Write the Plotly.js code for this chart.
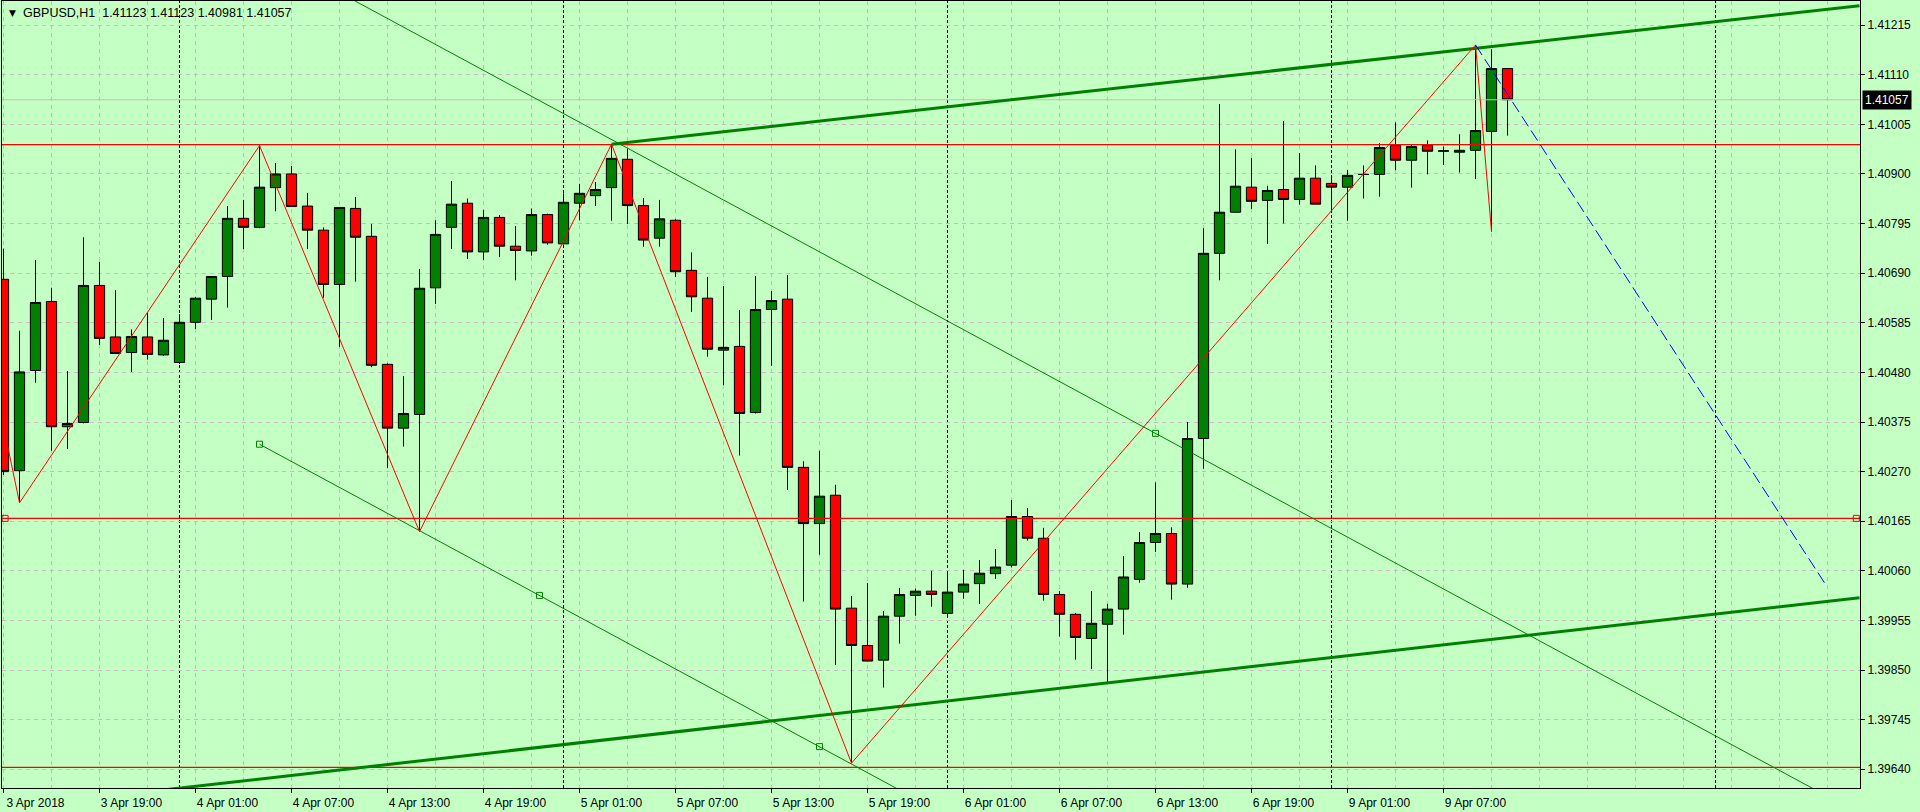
<!DOCTYPE html>
<html>
<head>
<meta charset="utf-8">
<script src="https://cdn.plot.ly/plotly-3.0.1.min.js"></script>
<style>
html,body{margin:0;padding:0;background:#c4ffc4;}
#chart{width:1920px;height:812px;}
</style>
</head>
<body>
<div id="chart"></div>
<script>
// ---- Data: GBPUSD H1, bar index 0 = 3 Apr 2018 13:00 ----
const barIndex = Array.from({length: 95}, (_, i) => i);
const openP = [1.40677,1.40272,1.40484,1.40630,1.40365,1.40374,1.40664,1.40555,1.40522,1.40555,
1.40517,1.40501,1.40586,1.40635,1.40683,1.40806,1.40787,1.40871,1.40900,1.40832,
1.40781,1.40666,1.40827,1.40768,1.40497,1.40362,1.40391,1.40659,1.40787,1.40838,
1.40735,1.40808,1.40747,1.40737,1.40814,1.40752,1.40838,1.40854,1.40871,1.40931,
1.40833,1.40764,1.40802,1.40696,1.40637,1.40527,1.40535,1.40395,1.40613,1.40635,
1.40279,1.40160,1.40220,1.39981,1.39902,1.39871,1.39964,1.40008,1.40017,1.39970,
1.40015,1.40033,1.40054,1.40072,1.40175,1.40129,1.40010,1.39968,1.39917,1.39947,
1.39979,1.40042,1.40120,1.40139,1.40032,1.40340,1.40732,1.40819,1.40872,1.40844,
1.40867,1.40846,1.40891,1.40880,1.40872,1.40899,1.40899,1.40960,1.40929,1.40960,
1.40948,1.40946,1.40950,1.40990,1.41123];
const highP = [1.40742,1.40568,1.40718,1.40659,1.40483,1.40766,1.40714,1.40654,1.40571,1.40606,
1.40595,1.40603,1.40640,1.40684,1.40832,1.40845,1.40960,1.40923,1.40917,1.40860,
1.40787,1.40830,1.40851,1.40794,1.40499,1.40472,1.40699,1.40802,1.40885,1.40848,
1.40824,1.40813,1.40790,1.40827,1.40816,1.40859,1.40879,1.40883,1.40963,1.40954,
1.40849,1.40845,1.40804,1.40734,1.40682,1.40663,1.40612,1.40684,1.40652,1.40686,
1.40292,1.40314,1.40242,1.40007,1.40034,1.39975,1.40024,1.40022,1.40060,1.40057,
1.40062,1.40083,1.40106,1.40210,1.40193,1.40151,1.40017,1.39971,1.40017,1.39990,
1.40091,1.40142,1.40247,1.40152,1.40375,1.40785,1.41048,1.40952,1.40934,1.40875,
1.41012,1.40944,1.40918,1.40896,1.40908,1.40918,1.40965,1.41009,1.40963,1.40971,
1.40958,1.40984,1.41173,1.41164,1.41123];
const lowP = [1.40263,1.40204,1.40458,1.40314,1.40318,1.40372,1.40538,1.40519,1.40481,1.40507,
1.40515,1.40498,1.40572,1.40591,1.40617,1.40741,1.40785,1.40821,1.40830,1.40741,
1.40638,1.40534,1.40672,1.40491,1.40278,1.40323,1.40143,1.40625,1.40741,1.40720,
1.40718,1.40724,1.40675,1.40727,1.40750,1.40751,1.40802,1.40832,1.40801,1.40794,
1.40746,1.40746,1.40682,1.40608,1.40513,1.40453,1.40304,1.40393,1.40494,1.40231,
1.39995,1.40094,1.39861,1.39653,1.39868,1.39813,1.39906,1.39965,1.39984,1.39964,
1.40001,1.39990,1.40043,1.40067,1.40124,1.39997,1.39921,1.39872,1.39852,1.39822,
1.39925,1.40035,1.40100,1.39999,1.40024,1.40276,1.40675,1.40818,1.40826,1.40752,
1.40795,1.40835,1.40835,1.40817,1.40801,1.40848,1.40852,1.40908,1.40871,1.40899,
1.40919,1.40903,1.40889,1.40778,1.40981];
const closeP = [1.40270,1.40481,1.40628,1.40365,1.40372,1.40664,1.40552,1.40520,1.40556,1.40518,
1.40548,1.40586,1.40637,1.40683,1.40806,1.40787,1.40872,1.40900,1.40831,1.40781,
1.40666,1.40829,1.40766,1.40495,1.40362,1.40393,1.40658,1.40772,1.40836,1.40735,
1.40808,1.40747,1.40738,1.40814,1.40754,1.40840,1.40859,1.40867,1.40933,1.40833,
1.40760,1.40805,1.40693,1.40640,1.40529,1.40533,1.40393,1.40613,1.40632,1.40279,
1.40160,1.40218,1.39979,1.39902,1.39869,1.39964,1.40010,1.40017,1.40010,1.40015,
1.40032,1.40055,1.40068,1.40175,1.40129,1.40010,1.39968,1.39919,1.39949,1.39979,
1.40047,1.40120,1.40139,1.40032,1.40340,1.40732,1.40819,1.40874,1.40842,1.40865,
1.40846,1.40891,1.40836,1.40872,1.40897,1.40899,1.40956,1.40929,1.40958,1.40948,
1.40949,1.40950,1.40992,1.41123,1.41057];

// axis ticks
const xTickVals = [0,6,12,18,24,30,36,42,48,54,60,66,72,78,84,90];
const xTickText = ['3 Apr 2018','3 Apr 19:00','4 Apr 01:00','4 Apr 07:00','4 Apr 13:00','4 Apr 19:00',
  '5 Apr 01:00','5 Apr 07:00','5 Apr 13:00','5 Apr 19:00','6 Apr 01:00','6 Apr 07:00',
  '6 Apr 13:00','6 Apr 19:00','9 Apr 01:00','9 Apr 07:00'];
const daySeparators = [11, 35, 59, 83, 107];

// drawn objects (bar index, price)
const zigzagX = [-1, 1, 16, 26, 38, 53, 92, 93];
const zigzagY = [1.40529, 1.40204, 1.40960, 1.40143, 1.40963, 1.39653, 1.41173, 1.40778];
const redLevels = [1.40962, 1.40171, 1.39644];
const redLevelHandlesX = [0.1, 115.8];
const upperThickX = [38, 116];
const upperThickY = [1.40963, 1.41256];
const lowerThickX = [0, 116];
const lowerThickY = [1.39558, 1.40003];
const thinLowerX = [16, 60];
const thinLowerY = [1.40328, 1.39523];
const thinUpperX = [0, 116];
const thinUpperY = [1.41668, 1.39546];
const thinHandlesX = [16, 33.5, 51, 72];
const thinHandlesY = [1.40328, 1.40008, 1.39688, 1.40351];
const forecastX = [92, 113.9];
const forecastY = [1.41173, 1.40030];
const bidPrice = 1.41057;
const headerText = 'GBPUSD,H1  1.41123 1.41123 1.40981 1.41057';

const BG = '#c4ffc4';
const GRID = '#c8b8c8';
const FONT = 'Liberation Sans, Arial, sans-serif';
const X0 = -0.094, X1 = 116.03;

const traces = [];
traces.push({type:'scatter', mode:'lines', x:[X0, X1], y:[bidPrice, bidPrice],
  line:{color:'#c0c0c0', width:1}, hoverinfo:'skip'});
traces.push({
  type:'candlestick', x: barIndex, open: openP, high: highP, low: lowP, close: closeP,
  increasing:{line:{color:'#000000', width:1}, fillcolor:'#008000'},
  decreasing:{line:{color:'#000000', width:1}, fillcolor:'#ff0000'},
  whiskerwidth:0, hoverinfo:'skip'
});
redLevels.forEach(v => traces.push({type:'scatter', mode:'lines', x:[X0, X1], y:[v, v],
  line:{color:'#ff0000', width:1.2}, hoverinfo:'skip'}));
traces.push({type:'scatter', mode:'markers', x: redLevelHandlesX, y:[redLevels[1], redLevels[1]],
  marker:{symbol:'square-open', size:6, color:'#ff0000', line:{width:1}}, hoverinfo:'skip'});
traces.push({type:'scatter', mode:'lines', x: thinUpperX, y: thinUpperY, line:{color:'#008000', width:1}, hoverinfo:'skip'});
traces.push({type:'scatter', mode:'lines', x: thinLowerX, y: thinLowerY, line:{color:'#008000', width:1}, hoverinfo:'skip'});
traces.push({type:'scatter', mode:'markers', x: thinHandlesX, y: thinHandlesY,
  marker:{symbol:'square-open', size:6, color:'#008000', line:{width:1}}, hoverinfo:'skip'});
traces.push({type:'scatter', mode:'lines', x: upperThickX, y: upperThickY, line:{color:'#008000', width:3}, hoverinfo:'skip'});
traces.push({type:'scatter', mode:'lines', x: lowerThickX, y: lowerThickY, line:{color:'#008000', width:3}, hoverinfo:'skip'});
traces.push({type:'scatter', mode:'lines', x: zigzagX, y: zigzagY, line:{color:'#ff0000', width:1}, hoverinfo:'skip'});
traces.push({type:'scatter', mode:'lines', x: forecastX, y: forecastY, line:{color:'#0000ff', width:1, dash:'12px,5px'}, hoverinfo:'skip'});

const shapes = daySeparators.map(d => ({type:'line', xref:'x', yref:'paper', x0:d, x1:d, y0:0, y1:1,
  line:{color:'#000000', width:1, dash:'3px,2px'}, layer:'below'}));

const layout = {
  width:1920, height:812,
  margin:{l:2, r:60, t:1, b:24, pad:0},
  paper_bgcolor: BG, plot_bgcolor: BG,
  showlegend:false,
  boxgap:0.36, boxgroupgap:0,
  hovermode:false,
  xaxis:{
    range:[X0, X1], tickmode:'array', tickvals:xTickVals, ticktext:xTickText,
    ticks:'outside', ticklen:4, tickcolor:'#000', tickwidth:1,
    showline:true, mirror:true, linecolor:'#000', linewidth:1,
    showgrid:false, zeroline:false, fixedrange:true,
    tickfont:{family:FONT, size:12, color:'#000'},
    ticklabelshift:32,
    rangeslider:{visible:false},
    minor:{tickmode:'linear', tick0:0, dtick:3, showgrid:true, gridcolor:GRID, griddash:'4px,4px', gridwidth:1, ticks:''}
  },
  yaxis:{
    side:'right', range:[1.396004, 1.41266],
    tickmode:'linear', tick0:1.39640, dtick:0.00105, tickformat:'.5f',
    ticks:'outside', ticklen:4, tickcolor:'#000', tickwidth:1,
    showgrid:true, gridcolor:GRID, griddash:'4px,4px', gridwidth:1,
    showline:true, mirror:true, linecolor:'#000', linewidth:1,
    zeroline:false, fixedrange:true,
    tickfont:{family:FONT, size:12, color:'#000'}
  },
  shapes: shapes,
  annotations:[
    {xref:'paper', yref:'paper', x:0, y:1, xanchor:'left', yanchor:'middle', xshift:5, yshift:-12,
     text:'▼', showarrow:false, font:{family:'DejaVu Sans', size:9, color:'#000'}},
    {xref:'paper', yref:'paper', x:0, y:1, xanchor:'left', yanchor:'middle', xshift:19, yshift:-12,
     text:headerText, showarrow:false, font:{family:FONT, size:12.5, color:'#000'}},
    {xref:'paper', yref:'y', x:1, y:bidPrice, xanchor:'left', yanchor:'middle', xshift:2,
     text:bidPrice.toFixed(5), showarrow:false, bgcolor:'#000000', borderpad:2,
     font:{family:FONT, size:12, color:'#ffffff'}}
  ]
};

Plotly.newPlot('chart', traces, layout, {displayModeBar:false, staticPlot:true});
</script>
</body>
</html>
